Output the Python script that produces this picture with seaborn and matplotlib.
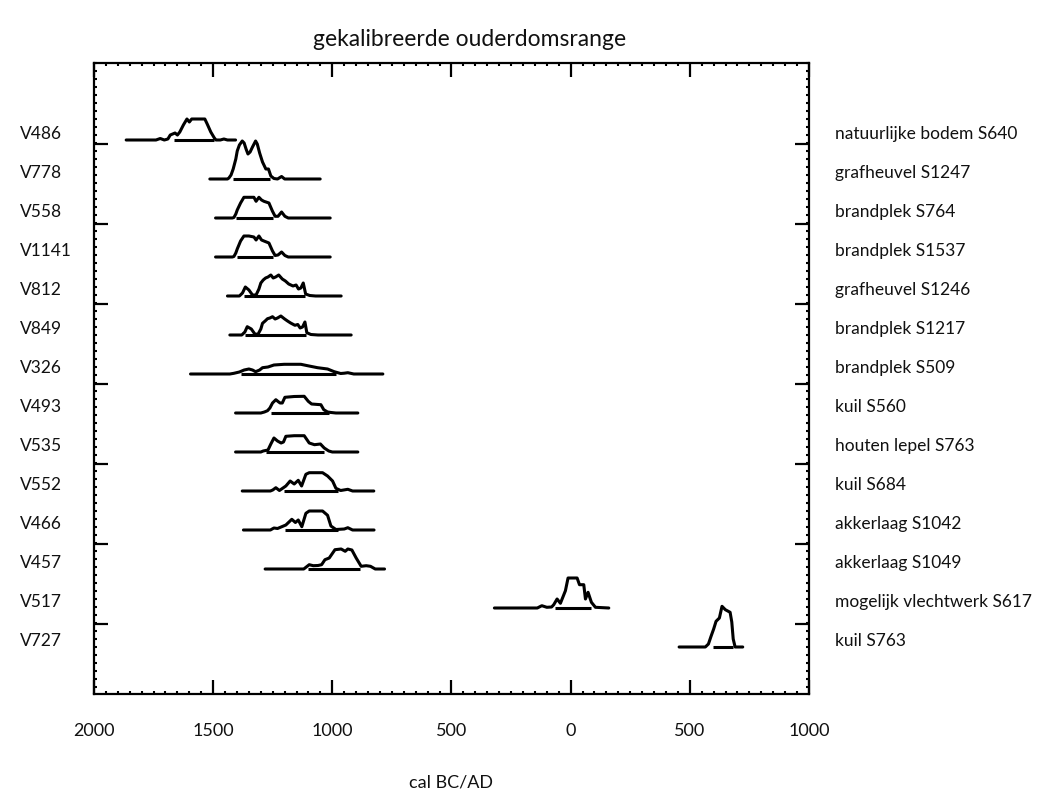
import numpy as np
import pandas as pd
import matplotlib
matplotlib.use("Agg")
import matplotlib.pyplot as plt
import seaborn as sns
from matplotlib.ticker import FixedLocator, MultipleLocator, FuncFormatter

# ---------------- data ----------------
lab_codes = ["V486", "V778", "V558", "V1141", "V812", "V849", "V326",
             "V493", "V535", "V552", "V466", "V457", "V517", "V727"]
lab_context = ["natuurlijke bodem S640", "grafheuvel S1247", "brandplek S764",
               "brandplek S1537", "grafheuvel S1246", "brandplek S1217",
               "brandplek S509", "kuil S560", "houten lepel S763", "kuil S684",
               "akkerlaag S1042", "akkerlaag S1049", "mogelijk vlechtwerk S617",
               "kuil S763"]

# calendar years (BC negative) and relative probability of each calibrated date
v486_year = [-1865, -1740, -1722, -1705, -1690, -1680, -1670, -1660, -1650, -1640, -1625, -1610,
             -1600, -1590, -1570, -1535, -1525, -1510, -1495, -1488, -1470, -1455, -1440, -1406]
v486_prob = [0, 0, 1.5, 0, 1, 5, 6, 7, 5, 8, 15, 21, 18, 21, 21, 21, 16, 8, 2, 0, 0, 1, 0, 0]

v778_year = [-1514, -1440, -1434, -1425, -1416, -1405, -1399, -1390, -1378, -1370, -1362, -1354,
             -1345, -1335, -1322, -1315, -1305, -1293, -1279, -1268, -1258, -1245, -1230, -1213,
             -1200, -1051]
v778_prob = [0, 0, 1, 4, 10, 20, 28, 34, 38, 36, 30, 25, 27, 32, 38, 35, 26, 17, 10, 10, 3, 0.5,
             0, 2.5, 0, 0]

v558_year = [-1490, -1420, -1413, -1405, -1399, -1385, -1371, -1350, -1329, -1320, -1308, -1297,
             -1287, -1266, -1251, -1240, -1228, -1213, -1199, -1185, -1009]
v558_prob = [0, 0, 0.5, 4, 8, 15, 20.7, 20.7, 20.7, 16.7, 20.7, 18, 16.7, 15, 6.7, 1.7, 1.7, 6,
             1.7, 0, 0]

v1141_year = [-1490, -1420, -1413, -1405, -1399, -1385, -1371, -1350, -1329, -1320, -1308, -1297,
              -1287, -1266, -1251, -1240, -1228, -1213, -1199, -1185, -1009]
v1141_prob = [0, 0, 0.5, 4, 8, 16, 21, 21, 20, 17, 21, 17, 16, 14, 6, 1.5, 2, 5, 1.5, 0, 0]

v812_year = [-1440, -1390, -1377, -1365, -1350, -1335, -1320, -1308, -1300, -1290, -1280, -1270,
             -1258, -1248, -1238, -1225, -1210, -1197, -1183, -1165, -1152, -1142, -1132, -1122,
             -1112, -1095, -1070, -963]
v812_prob = [0, 0, 3, 9, 6, 1, 1, 7, 13, 16, 18, 19, 21, 18, 19, 21, 17, 15, 12, 10, 11, 7, 8, 13,
             2, 0.5, 0, 0]

v849_year = [-1430, -1380, -1367, -1357, -1340, -1325, -1312, -1300, -1293, -1282, -1272, -1262,
             -1251, -1240, -1230, -1216, -1200, -1188, -1175, -1157, -1145, -1135, -1125, -1115,
             -1107, -1090, -1060, -921]
v849_prob = [0, 0, 3, 8.3, 6, 1, 0.7, 6, 11.7, 14, 16.3, 17, 18.3, 16, 17, 19, 16, 14, 12, 9.7,
             10.5, 7, 8, 13, 2.3, 0.5, 0, 0]

v326_year = [-1595, -1430, -1413, -1390, -1370, -1350, -1335, -1322, -1305, -1293, -1270, -1245,
             -1202, -1132, -1104, -1062, -1020, -992, -965, -950, -935, -910, -788]
v326_prob = [0, 0, 0.7, 2, 4, 5, 4, 2.3, 4, 6.3, 7, 9, 9.7, 9.7, 8.3, 6.3, 5, 2.3, 0.5, 0.8, 1.3,
             0, 0]

v493_year = [-1406, -1300, -1285, -1272, -1262, -1251, -1237, -1225, -1219, -1210, -1199, -1160,
             -1118, -1101, -1087, -1060, -1048, -1036, -1020, -1005, -985, -893]
v493_prob = [0, 0, 1, 2.3, 5, 10, 13.3, 11, 10, 10, 15.7, 16.5, 16.7, 11.7, 9, 8.5, 8.3, 3.3, 1,
             0.5, 0, 0]

v535_year = [-1406, -1300, -1290, -1270, -1258, -1245, -1230, -1215, -1205, -1195, -1160, -1118,
             -1097, -1075, -1050, -1034, -1015, -1000, -893]
v535_prob = [0, 0, 1, 2, 8, 14, 11, 9, 10, 15.7, 16.3, 16.3, 9, 7.3, 8, 4, 1, 0, 0]

v552_year = [-1378, -1260, -1250, -1237, -1222, -1195, -1177, -1160, -1143, -1129, -1111, -1097,
             -1041, -1020, -999, -985, -965, -935, -915, -826]
v552_prob = [0, 0, 1, 3.3, 0.5, 5, 10, 7, 10.7, 5, 16.7, 18.3, 18.3, 15, 10, 2.7, 0.5, 1.7, 0, 0]

v466_year = [-1373, -1260, -1245, -1230, -1195, -1170, -1155, -1143, -1128, -1111, -1097, -1041,
             -1020, -1006, -985, -950, -935, -915, -825]
v466_prob = [0, 0, 2, 1.5, 5, 10.7, 7.5, 10, 3.3, 16.7, 19, 19, 14.7, 4, 0.5, 1, 2.3, 0, 0]

v457_year = [-1282, -1120, -1097, -1080, -1060, -1045, -1031, -1013, -989, -963, -946, -935, -918,
             -900, -879, -858, -840, -820, -781]
v457_prob = [0, 0, 4.3, 3.3, 3.5, 4.3, 9.3, 11, 19.3, 20, 17.7, 20, 19, 11, 2.7, 3.3, 2.7, 0, 0]

v517_year = [-320, -140, -121, -100, -80, -71, -57, -43, -22, -11, 27, 37, 55, 62, 73, 87, 104, 160]
v517_prob = [0, 0, 2.3, 0.7, 1, 3.3, 9, 4.7, 17.3, 30, 30, 23.3, 23.3, 9, 15.7, 5.7, 0.7, 0]

v727_year = [455, 565, 578, 589, 600, 610, 624, 635, 649, 669, 676, 682, 690, 722]
v727_prob = [0, 0, 3, 10.7, 18, 25.7, 29, 40.7, 37.3, 34.7, 25, 8, 0, 0]

# 95% ranges (start, end)
range_start = [-1666, -1416, -1403, -1400, -1370, -1365, -1385, -1258, -1279, -1202, -1200, -1104, -65, 596]
range_end = [-1497, -1260, -1247, -1250, -1115, -1110, -985, -1013, -1034, -978, -975, -882, 87, 683]

x_ticks = [-2000, -1500, -1000, -500, 0, 500, 1000]

# ---------------- build table ----------------
years = [v486_year, v778_year, v558_year, v1141_year, v812_year, v849_year, v326_year,
         v493_year, v535_year, v552_year, v466_year, v457_year, v517_year, v727_year]
probs = [v486_prob, v778_prob, v558_prob, v1141_prob, v812_prob, v849_prob, v326_prob,
         v493_prob, v535_prob, v552_prob, v466_prob, v457_prob, v517_prob, v727_prob]

ROW_PX = 39.0            # pixel distance between rows
rows = []
for i, (code, yr, pr) in enumerate(zip(lab_codes, years, probs)):
    for y_, p_ in zip(yr, pr):
        rows.append({"sample": code, "year": y_, "pos": i - p_ / ROW_PX})
df = pd.DataFrame(rows)

rng = pd.DataFrame({"sample": lab_codes, "start": range_start, "end": range_end,
                    "row": np.arange(len(lab_codes))})

# ---------------- figure ----------------
sns.set_theme(style="white")
plt.rcParams["font.family"] = ["Lato", "DejaVu Sans"]

W, H = 1042, 789
fig = plt.figure(figsize=(W / 100, H / 100), dpi=100)
ax_l, ax_r, ax_t, ax_b = 94, 809, 63, 694
ax = fig.add_axes([ax_l / W, 1 - ax_b / H, (ax_r - ax_l) / W, (ax_b - ax_t) / H])

row0_px = 140
sns.lineplot(data=df, x="year", y="pos", units="sample", estimator=None, sort=False,
             color="black", linewidth=2.2, ax=ax, legend=False)
ax.hlines(rng["row"] + 0.012, rng["start"], rng["end"], color="black", linewidth=2.2)

ax.set_xlim(-2000, 1000)
ax.set_ylim((ax_b - row0_px) / ROW_PX, (ax_t - row0_px) / ROW_PX)

ax.xaxis.set_major_locator(FixedLocator(x_ticks))
ax.xaxis.set_minor_locator(MultipleLocator(50))
ax.xaxis.set_major_formatter(FuncFormatter(lambda v, p: f"{abs(int(round(v)))}"))

major_y = [(144 + 80 * k - row0_px) / ROW_PX for k in range(7)]
minor_y = [(ax_t + 8 * m - row0_px) / ROW_PX for m in range(0, 80)]
ax.yaxis.set_major_locator(FixedLocator(major_y))
ax.yaxis.set_minor_locator(FixedLocator(minor_y))
ax.set_yticklabels([])

ax.tick_params(axis="both", which="major", direction="in", length=10, width=1.6,
               top=True, right=True, bottom=True, left=True, color="black")
ax.tick_params(axis="both", which="minor", direction="in", length=2.5, width=1.5,
               top=True, right=True, bottom=True, left=True, color="black")
ax.tick_params(axis="x", which="major", pad=21, labelsize=13, labelcolor="#111111")
ax.set_xlabel("")
ax.set_ylabel("")
for s in ax.spines.values():
    s.set_visible(True)
    s.set_color("black")
    s.set_linewidth(1.6)
ax.grid(False)

for i, (code, ctx) in enumerate(zip(lab_codes, lab_context)):
    ypx = row0_px + ROW_PX * i - 6
    fig.text(20 / W, 1 - ypx / H, code, ha="left", va="center", fontsize=12.5, color="#111111")
    fig.text(835 / W, 1 - ypx / H, ctx, ha="left", va="center", fontsize=12.5, color="#111111")

fig.text(470 / W, 1 - 40 / H, "gekalibreerde ouderdomsrange", ha="center", va="center",
         fontsize=16.5, color="#111111")
fig.text(451 / W, 1 - 783 / H, "cal BC/AD", ha="center", va="center", fontsize=13,
         color="#111111")

fig.savefig("out.png", dpi=100)
